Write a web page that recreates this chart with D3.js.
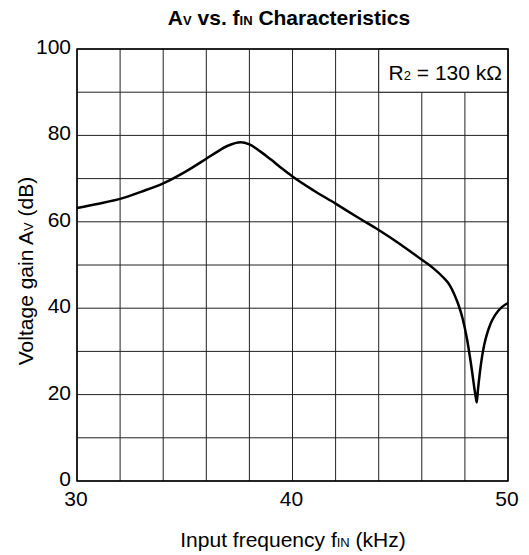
<!DOCTYPE html>
<html>
<head>
<meta charset="utf-8">
<script src="https://cdn.jsdelivr.net/npm/d3@7"></script>
<style>
  body { margin: 0; background: #fff; }
  text { font-family: "Liberation Sans", Arial, sans-serif; fill: #000; }
</style>
</head>
<body>
<div id="chart"></div>
<script>
// gain curve
const freqKHz = [30, 31, 32, 33, 34, 35, 36, 36.5, 37, 37.6, 38, 38.5, 39, 39.5, 40, 41, 42, 43, 44, 45, 46, 46.5, 47, 47.3, 47.5, 47.7, 47.9, 48.1, 48.3, 48.5, 48.55, 48.6, 48.7, 48.8, 48.9, 49, 49.2, 49.4, 49.7, 50];
const gainDB = [63.2, 64.2, 65.3, 67, 68.9, 71.5, 74.6, 76.2, 77.6, 78.4, 77.9, 76.3, 74.4, 72.4, 70.5, 67.2, 64.2, 61.1, 58.1, 54.8, 51.2, 49.4, 47.1, 45.3, 43.3, 40.8, 37.5, 32.8, 26.5, 19.5, 18.2, 20.8, 25.3, 28.9, 31.6, 33.6, 36.5, 38.4, 40.2, 41.2];
const xTickLabels = [30, 40, 50];
const yTickLabels = [0, 20, 40, 60, 80, 100];
const xGrid = d3.range(30, 51, 2);
const yGrid = d3.range(0, 101, 10);

const width = 529, height = 555;
const margin = { left: 77, right: 21, top: 49, bottom: 74 };
const fontSize = 21, subSize = 13;

const svg = d3.select("#chart").append("svg")
    .attr("width", width).attr("height", height);

const x = d3.scaleLinear().domain([30, 50]).range([margin.left, width - margin.right]);
const y = d3.scaleLinear().domain([0, 100]).range([height - margin.bottom, margin.top]);

// grid
svg.append("g").selectAll("line").data(xGrid).join("line")
    .attr("x1", d => x(d)).attr("x2", d => x(d))
    .attr("y1", y(0)).attr("y2", y(100))
    .attr("stroke", "#222").attr("stroke-width", 1);
svg.append("g").selectAll("line").data(yGrid).join("line")
    .attr("x1", x(30)).attr("x2", x(50))
    .attr("y1", d => y(d)).attr("y2", d => y(d))
    .attr("stroke", "#222").attr("stroke-width", 1);

// legend cell
svg.append("rect")
    .attr("x", x(44)).attr("y", y(100))
    .attr("width", x(50) - x(44)).attr("height", y(90) - y(100))
    .attr("fill", "#fff").attr("stroke", "#222").attr("stroke-width", 1);
const leg = svg.append("text")
    .attr("x", x(50) - 6).attr("y", y(95) + 9)
    .attr("text-anchor", "end").style("font-size", fontSize + "px");
leg.append("tspan").text("R");
leg.append("tspan").style("font-size", subSize + "px").text("2");
leg.append("tspan").text(" = 130 kΩ");

// frame
svg.append("rect")
    .attr("x", x(30)).attr("y", y(100))
    .attr("width", x(50) - x(30)).attr("height", y(0) - y(100))
    .attr("fill", "none").attr("stroke", "#000").attr("stroke-width", 1.5);

// curve
const line = d3.line()
    .x((d, i) => x(freqKHz[i]))
    .y(d => y(d))
    .curve(d3.curveMonotoneX);
svg.append("path")
    .attr("d", line(gainDB))
    .attr("fill", "none").attr("stroke", "#000").attr("stroke-width", 2.5)
    .attr("stroke-linejoin", "round");

// tick labels
svg.append("g").selectAll("text").data(yTickLabels).join("text")
    .attr("x", x(30) - 6).attr("y", d => y(d) + 5)
    .attr("text-anchor", "end").style("font-size", fontSize + "px")
    .text(d => d);
svg.append("g").selectAll("text").data(xTickLabels).join("text")
    .attr("x", d => x(d) - 1).attr("y", y(0) + 25)
    .attr("text-anchor", "middle").style("font-size", fontSize + "px")
    .text(d => d);

// title
const title = svg.append("text")
    .attr("x", 289).attr("y", 25)
    .attr("text-anchor", "middle").style("font-size", fontSize + "px").style("font-weight", "bold");
title.append("tspan").text("A");
title.append("tspan").style("font-size", subSize + "px").text("V");
title.append("tspan").text(" vs. f");
title.append("tspan").style("font-size", subSize + "px").text("IN");
title.append("tspan").text(" Characteristics");

// axis labels
const xl = svg.append("text")
    .attr("x", 293).attr("y", 547)
    .attr("text-anchor", "middle").style("font-size", fontSize + "px");
xl.append("tspan").text("Input frequency f");
xl.append("tspan").style("font-size", subSize + "px").text("IN");
xl.append("tspan").text(" (kHz)");

const yl = svg.append("text")
    .attr("transform", "translate(33,271) rotate(-90)")
    .attr("text-anchor", "middle").style("font-size", fontSize + "px");
yl.append("tspan").text("Voltage gain A");
yl.append("tspan").style("font-size", subSize + "px").text("V");
yl.append("tspan").text(" (dB)");
</script>
</body>
</html>
